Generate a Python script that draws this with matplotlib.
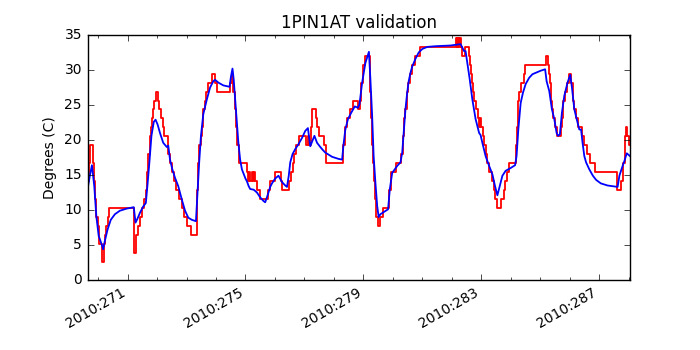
import matplotlib
matplotlib.use('Agg')
import matplotlib.pyplot as plt
from matplotlib.ticker import FixedLocator, MultipleLocator, FuncFormatter

plt.style.use('classic')
plt.rcParams['font.size'] = 10

# telemetry (red, quantized steps) : day of year 2010, degrees C
tlm_days = [269.64, 269.69, 269.74, 269.82, 269.86, 269.90, 269.94, 269.98, 270.04, 270.12,
            270.19, 270.24, 270.28, 270.32, 270.38, 271.22, 271.30, 271.35, 271.42, 271.50,
            271.57, 271.63, 271.67, 271.71, 271.75, 271.79, 271.83, 271.87, 271.91, 271.96,
            272.03, 272.08, 272.13, 272.19, 272.25, 272.38, 272.44, 272.50, 272.56, 272.64,
            272.75, 272.84, 272.92, 273.00, 273.16, 273.34, 273.37, 273.40, 273.44, 273.48,
            273.52, 273.57, 273.62, 273.67, 273.74, 273.87, 273.96, 274.05, 274.49, 274.53,
            274.58, 274.63, 274.68, 274.73, 274.79, 275.06, 275.10, 275.13, 275.17, 275.21,
            275.24, 275.28, 275.31, 275.40, 275.51, 275.75, 275.84, 276.00, 276.20, 276.24,
            276.49, 276.55, 276.60, 276.66, 276.72, 276.82, 277.04, 277.13, 277.17, 277.22,
            277.25, 277.38, 277.43, 277.50, 277.67, 277.73, 278.31, 278.37, 278.45, 278.54,
            278.66, 278.81, 278.88, 278.93, 279.00, 279.07, 279.21, 279.24, 279.27, 279.30,
            279.33, 279.36, 279.40, 279.44, 279.50, 279.58, 279.68, 279.88, 279.94, 280.12,
            280.28, 280.33, 280.38, 280.43, 280.48, 280.53, 280.58, 280.64, 280.74, 280.92,
            282.15, 282.17, 282.19, 282.21, 282.23, 282.25, 282.27, 282.30, 282.34, 282.46,
            282.58, 282.62, 282.65, 282.69, 282.73, 282.77, 282.82, 282.88, 282.93, 282.96,
            283.00, 283.05, 283.10, 283.16, 283.21, 283.28, 283.36, 283.42, 283.48, 283.54,
            283.68, 283.76, 283.82, 283.87, 283.95, 284.19, 284.22, 284.26, 284.30, 284.36,
            284.44, 284.50, 285.20, 285.26, 285.29, 285.32, 285.36, 285.40, 285.45, 285.51,
            285.56, 285.70, 285.73, 285.77, 285.83, 285.90, 285.98, 286.06, 286.10, 286.16,
            286.22, 286.29, 286.42, 286.50, 286.60, 286.68, 286.86, 287.62, 287.73, 287.80,
            287.87, 287.91, 287.95, 288.00, 288.05]
tlm_temps = [14.10, 16.67, 19.23, 16.67, 14.10, 11.54, 8.97, 7.69, 5.13, 2.56,
             5.13, 6.41, 7.69, 8.97, 10.26, 3.85, 6.41, 7.69, 8.97, 10.26,
             11.54, 12.82, 15.38, 17.95, 20.51, 21.79, 23.08, 24.36, 25.64, 26.92,
             25.64, 24.36, 23.08, 21.79, 20.51, 17.95, 16.67, 15.38, 14.10, 12.82,
             11.54, 10.26, 8.97, 7.69, 6.41, 8.97, 12.82, 16.67, 19.23, 20.51,
             21.79, 24.36, 25.64, 26.92, 28.21, 29.49, 28.21, 26.92, 28.21, 29.49,
             26.92, 24.36, 21.79, 19.23, 16.67, 15.38, 14.10, 15.38, 14.10, 15.38,
             14.10, 15.38, 14.10, 12.82, 11.54, 12.82, 14.10, 15.38, 14.10, 12.82,
             14.10, 15.38, 16.67, 17.95, 19.23, 20.51, 19.23, 20.51, 19.23, 21.79,
             24.36, 23.08, 21.79, 20.51, 19.23, 16.67, 19.23, 21.79, 23.08, 24.36,
             25.64, 24.36, 25.64, 28.21, 30.77, 32.05, 30.77, 26.92, 23.08, 19.23,
             16.67, 14.10, 11.54, 8.97, 7.69, 8.97, 10.26, 12.82, 15.38, 16.67,
             17.95, 20.51, 23.08, 24.36, 26.92, 28.21, 29.49, 30.77, 32.05, 33.33,
             34.62, 33.33, 34.62, 33.33, 34.62, 33.33, 34.62, 33.33, 32.05, 33.33,
             32.05, 30.77, 29.49, 28.21, 26.92, 25.64, 24.36, 23.08, 21.79, 23.08,
             21.79, 20.51, 19.23, 17.95, 16.67, 15.38, 14.10, 12.82, 11.54, 10.26,
             11.54, 12.82, 14.10, 15.38, 16.67, 19.23, 21.79, 25.64, 26.92, 28.21,
             29.49, 30.77, 32.05, 30.77, 29.49, 28.21, 25.64, 24.36, 23.08, 21.79,
             20.51, 21.79, 23.08, 25.64, 26.92, 28.21, 29.49, 28.21, 25.64, 24.36,
             23.08, 21.79, 20.51, 19.23, 17.95, 16.67, 15.38, 12.82, 14.10, 16.67,
             20.51, 21.79, 20.51, 19.23, 19.23]

# model prediction (blue)
model_days = [269.64, 269.72, 269.79, 269.87, 269.94, 270.02, 270.12, 270.17, 270.23, 270.32,
              270.43, 270.57, 270.74, 270.97, 271.21, 271.27, 271.34, 271.42, 271.53, 271.62,
              271.68, 271.74, 271.81, 271.89, 271.95, 272.02, 272.10, 272.21, 272.33, 272.38,
              272.44, 272.52, 272.61, 272.72, 272.84, 272.95, 273.06, 273.18, 273.32, 273.38,
              273.43, 273.49, 273.57, 273.69, 273.80, 273.91, 273.97, 274.08, 274.25, 274.46,
              274.51, 274.56, 274.60, 274.65, 274.71, 274.76, 274.82, 274.88, 275.00, 275.05,
              275.11, 275.16, 275.28, 275.39, 275.50, 275.61, 275.67, 275.76, 275.84, 275.90,
              276.01, 276.12, 276.24, 276.35, 276.41, 276.47, 276.52, 276.60, 276.69, 276.80,
              276.92, 277.03, 277.12, 277.20, 277.34, 277.43, 277.54, 277.62, 277.71, 277.94,
              278.16, 278.28, 278.33, 278.39, 278.48, 278.59, 278.71, 278.82, 278.87, 278.96,
              279.07, 279.19, 279.24, 279.30, 279.35, 279.41, 279.47, 279.52, 279.58, 279.69,
              279.84, 279.90, 279.98, 280.15, 280.26, 280.32, 280.37, 280.43, 280.49, 280.54,
              280.60, 280.66, 280.77, 280.88, 281.00, 281.17, 281.45, 281.96, 282.30, 282.36,
              282.42, 282.47, 282.53, 282.61, 282.70, 282.81, 282.93, 282.98, 283.04, 283.15,
              283.27, 283.38, 283.47, 283.55, 283.63, 283.72, 283.83, 284.00, 284.15, 284.20,
              284.26, 284.34, 284.42, 284.51, 284.63, 284.74, 284.91, 285.02, 285.17, 285.22,
              285.31, 285.40, 285.48, 285.56, 285.61, 285.67, 285.74, 285.82, 285.93, 286.02,
              286.08, 286.16, 286.24, 286.33, 286.39, 286.44, 286.50, 286.56, 286.67, 286.79,
              286.90, 287.06, 287.29, 287.63, 287.69, 287.80, 287.86, 287.94, 288.05]
model_temps = [12.95, 14.9, 16.4, 13.4, 9.1, 6.3, 5.1, 4.4, 5.6, 7.2,
               8.6, 9.4, 9.9, 10.2, 10.4, 8.2, 8.8, 9.6, 10.5, 11.0,
               13.8, 16.8, 20.6, 22.6, 22.9, 22.2, 21.0, 19.6, 19.0, 19.2,
               17.2, 15.8, 14.6, 13.4, 11.5, 9.9, 8.9, 8.6, 8.4, 13.0,
               16.8, 20.6, 23.7, 25.8, 27.5, 28.4, 28.6, 28.2, 27.8, 27.6,
               29.1, 30.2, 28.7, 25.8, 22.5, 19.6, 17.2, 15.8, 14.5, 14.1,
               13.4, 13.0, 12.9, 12.5, 11.8, 11.3, 11.1, 12.2, 13.3, 13.8,
               14.5, 14.9, 14.0, 13.5, 13.3, 14.9, 16.8, 18.0, 18.7, 19.4,
               20.3, 21.3, 21.7, 19.1, 20.6, 19.6, 19.0, 18.6, 18.2, 17.6,
               17.3, 17.2, 19.4, 21.5, 23.0, 23.9, 24.8, 24.6, 25.1, 28.2,
               31.0, 32.6, 28.7, 23.4, 17.7, 13.9, 10.6, 9.0, 9.4, 9.7,
               10.1, 13.0, 15.3, 16.3, 16.8, 18.2, 21.0, 24.4, 26.8, 28.4,
               29.6, 30.5, 31.6, 32.5, 33.0, 33.3, 33.4, 33.5, 33.7, 33.2,
               32.7, 32.7, 31.0, 28.7, 25.8, 23.0, 21.0, 20.7, 19.6, 17.7,
               16.3, 15.1, 13.4, 12.1, 13.4, 14.9, 15.6, 16.0, 16.4, 17.7,
               21.5, 25.3, 26.8, 28.0, 28.9, 29.4, 29.7, 29.9, 30.1, 28.4,
               27.0, 24.4, 23.0, 21.0, 20.6, 20.8, 23.9, 26.3, 28.2, 29.3,
               27.5, 24.4, 23.0, 21.5, 21.5, 19.6, 17.7, 16.8, 15.8, 14.9,
               14.3, 13.8, 13.5, 13.3, 14.9, 16.3, 17.0, 18.1, 17.7]

tick_days = [271, 275, 279, 283, 287]

fig = plt.figure(figsize=(7, 3.5), dpi=100)
ax = fig.add_subplot(111)
ax.plot(tlm_days, tlm_temps, '-r', drawstyle='steps-post', lw=1.3)
ax.plot(model_days, model_temps, '-b', lw=1.3)

ax.set_xlim(269.64, 288.05)
ax.set_ylim(0, 35)
ax.xaxis.set_major_locator(FixedLocator(tick_days))
ax.xaxis.set_minor_locator(MultipleLocator(1))
ax.xaxis.set_major_formatter(FuncFormatter(lambda x, pos: "2010:{:d}".format(int(round(x)))))
ax.set_title("1PIN1AT validation")
ax.set_ylabel("Degrees (C)")
fig.autofmt_xdate()
fig.subplots_adjust(left=0.125, right=0.9, top=0.9, bottom=0.2)

fig.savefig('out.png', facecolor='w')
